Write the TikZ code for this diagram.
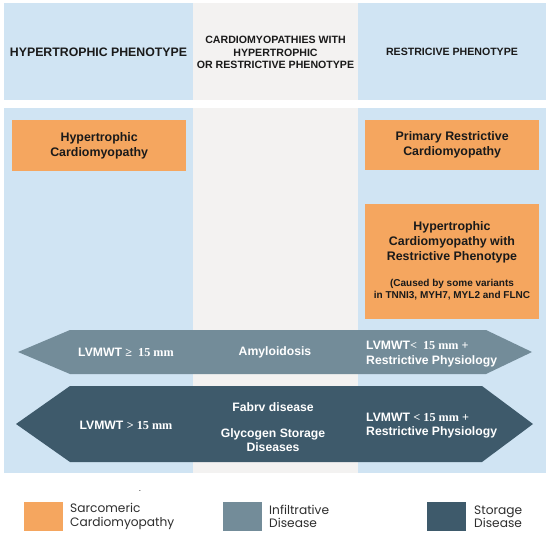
\documentclass[tikz,border=0pt]{standalone}
\usepackage{fontspec}
\setmainfont{Liberation Sans}
\newfontfamily\serifb{Liberation Serif}
\newfontfamily\legendf{Poppins}
\definecolor{lblue}{HTML}{D0E4F3}
\definecolor{lgray}{HTML}{F3F2F1}
\definecolor{sarc}{HTML}{F5A65F}
\definecolor{infil}{HTML}{738C99}
\definecolor{stor}{HTML}{3E5A6B}
\definecolor{htext}{HTML}{1A1A1A}
\definecolor{legtext}{HTML}{2E2E2E}
\tikzset{
  hdr/.style={text=htext, font=\bfseries\fontsize{10.6}{12.7}\selectfont, align=center, inner sep=0pt},
  boxtxt/.style={text=htext, font=\bfseries\fontsize{12.4}{15}\selectfont, align=center, inner sep=0pt},
  subtxt/.style={text=htext, font=\bfseries\fontsize{10}{12}\selectfont, align=center, inner sep=0pt},
  arrtxt/.style={text=white, font=\bfseries\fontsize{12.2}{14.5}\selectfont, inner sep=0pt},
  sarcbox/.style={fill=sarc, draw=none, inner sep=0pt},
  legsq/.style={draw=none, inner sep=0pt, minimum width=39pt, minimum height=29pt},
  legtxt/.style={text=legtext, font=\legendf\fontsize{12.2}{13.5}\selectfont, align=left, anchor=west, inner sep=0pt}
}
\begin{document}
\begin{tikzpicture}[x=1pt,y=-1pt]
\useasboundingbox (0,0) rectangle (550,541);
\fill[white] (0,0) rectangle (550,541);
% header band
\fill[lblue] (4,3) rectangle (193,100);
\fill[lgray] (193,3) rectangle (358,100);
\fill[lblue] (358,3) rectangle (546,100);
% lower band
\fill[lblue] (4,108) rectangle (193,473);
\fill[lgray] (193,108) rectangle (358,473);
\fill[lblue] (358,108) rectangle (546,473);

% header texts
\node[hdr, font=\bfseries\fontsize{12.3}{14}\selectfont] (h1) at (98.5,52) {HYPERTROPHIC PHENOTYPE};
\node[hdr] (h2) at (275.5,52.5) {CARDIOMYOPATHIES WITH\\HYPERTROPHIC\\OR RESTRICTIVE PHENOTYPE};
\node[hdr] (h3) at (452,52) {RESTRICIVE PHENOTYPE};

% orange boxes
\node[sarcbox, minimum width=174pt, minimum height=51pt, anchor=north west] (hcm) at (12,120) {};
\node[boxtxt] (hcmt) at (hcm.center) {Hypertrophic\\Cardiomyopathy};
\node[sarcbox, minimum width=174pt, minimum height=50pt, anchor=north west] (prc) at (365,120) {};
\node[boxtxt] (prct) at (prc.center) {Primary Restrictive\\Cardiomyopathy};
\node[sarcbox, minimum width=174pt, minimum height=115pt, anchor=north west] (hrp) at (365,204) {};
\node[boxtxt] (hrpt) at (452,242) {Hypertrophic\\Cardiomyopathy with\\Restrictive Phenotype};
\node[subtxt] (hrps) at (452,290) {(Caused by some variants\\in TNNI3, MYH7, MYL2 and FLNC};

% infiltrative arrow
\fill[infil] (18,352) -- (70,330) -- (486,330) -- (532,352) -- (486,374) -- (70,374) -- cycle;
\node[arrtxt] (a1l) at (126,352) {LVMWT {\serifb ≥\ \ 15 mm}};
\node[arrtxt] (a1m) at (275,352) {Amyloidosis};
\node[arrtxt, align=left, anchor=west] (a1r) at (366,354) {LVMWT{\serifb < \ 15 mm +}\\Restrictive Physiology};

% storage arrow
\fill[stor] (16,424) -- (70,386) -- (482,386) -- (533,424) -- (482,462) -- (70,462) -- cycle;
\node[arrtxt] (a2l) at (126,425) {LVMWT {\serifb > 15 mm}};
\node[arrtxt] (a2m1) at (273,407) {Fabrv disease};
\node[arrtxt, align=center, font=\bfseries\fontsize{12.2}{14}\selectfont] (a2m2) at (273,440) {Glycogen Storage\\Diseases};
\node[arrtxt, align=left, anchor=west] (a2r) at (366,425.5) {LVMWT {\serifb < 15 mm +}\\Restrictive Physiology};

% legend
\node[inner sep=0pt, font=\fontsize{8}{8}\selectfont] (dot) at (140,491) {.};
\node[legsq, fill=sarc, anchor=north west] (l1) at (24,502) {};
\node[legtxt] (l1t) at (70,516.5) {Sarcomeric\\Cardiomyopathy};
\node[legsq, fill=infil, anchor=north west] (l2) at (223,502) {};
\node[legtxt] (l2t) at (269,516.5) {Infiltrative\\Disease};
\node[legsq, fill=stor, anchor=north west] (l3) at (427,502) {};
\node[legtxt] (l3t) at (474,516.5) {Storage\\Disease};
\end{tikzpicture}
\end{document}
